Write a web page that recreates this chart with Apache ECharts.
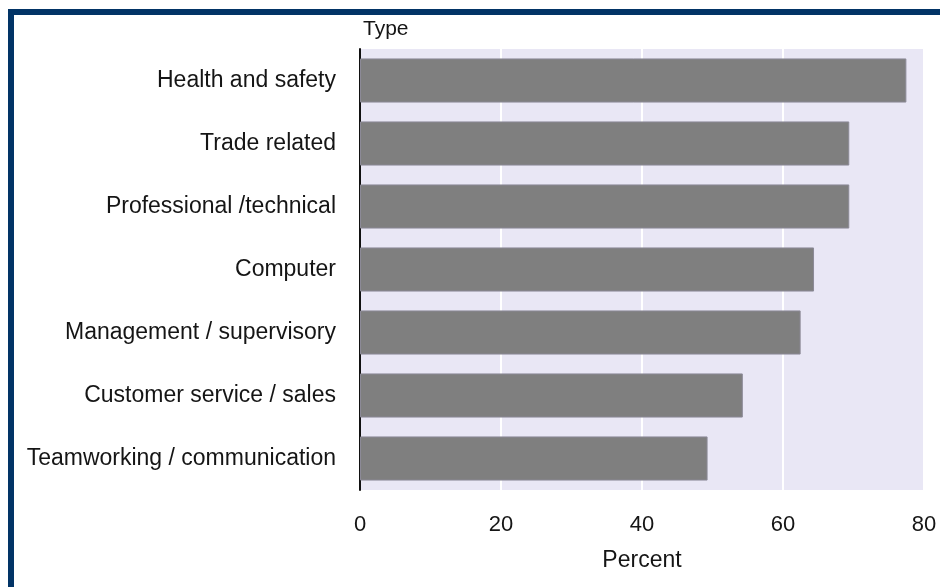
<!DOCTYPE html>
<html>
<head>
<meta charset="utf-8">
<style>
  html, body { margin: 0; padding: 0; background: #ffffff; }
  #chart { width: 940px; height: 587px; }
</style>
<script src="https://cdn.jsdelivr.net/npm/echarts@6/dist/echarts.min.js"></script>
</head>
<body>
<div id="chart"></div>
<script>
// Training types, top to bottom
const categories = [
  'Health and safety',
  'Trade related',
  'Professional /technical',
  'Computer',
  'Management / supervisory',
  'Customer service / sales',
  'Teamworking / communication'
];
// Share of respondents, percent
const percentValues = [77.5, 69.4, 69.4, 64.4, 62.5, 54.3, 49.3];
const percentTicks = [0, 20, 40, 60, 80];

const FONT = '"Liberation Sans", Arial, sans-serif';
const TEXT = '#151515';

const chart = echarts.init(document.getElementById('chart'), null, { renderer: 'canvas' });

chart.setOption({
  animation: false,
  backgroundColor: '#ffffff',
  title: {
    text: 'Type',
    left: 363,
    top: 19,
    padding: 0,
    textStyle: { fontFamily: FONT, fontSize: 21, fontWeight: 'normal', color: TEXT }
  },
  graphic: [
    // frame: navy rule along the top and left edges
    { type: 'rect', shape: { x: 8, y: 9, width: 932, height: 6 }, style: { fill: '#023466' }, z: 100 },
    { type: 'rect', shape: { x: 8, y: 9, width: 6, height: 578 }, style: { fill: '#023466' }, z: 100 }
  ],
  grid: {
    left: 360,
    right: 16,
    top: 49,
    bottom: 97,
    show: true,
    backgroundColor: '#e9e7f5',
    borderWidth: 0,
    containLabel: false
  },
  xAxis: {
    type: 'value',
    min: percentTicks[0],
    max: percentTicks[percentTicks.length - 1],
    interval: 20,
    name: 'Percent',
    nameLocation: 'middle',
    nameGap: 59,
    nameTextStyle: { fontFamily: FONT, fontSize: 23, color: TEXT },
    axisLine: { show: false },
    axisTick: { show: false },
    axisLabel: {
      margin: 24,
      fontFamily: FONT,
      fontSize: 22,
      color: TEXT,
      formatter: v => percentTicks.includes(v) ? String(v) : ''
    },
    splitLine: { show: true, lineStyle: { color: '#ffffff', width: 2 } }
  },
  yAxis: {
    type: 'category',
    data: categories,
    inverse: true,
    axisLine: { show: true, lineStyle: { color: '#111111', width: 2 } },
    axisTick: { show: false },
    axisLabel: {
      margin: 24,
      fontFamily: FONT,
      fontSize: 23,
      color: TEXT
    },
    splitLine: { show: false }
  },
  series: [{
    type: 'bar',
    data: percentValues,
    barCategoryGap: '30%',
    itemStyle: { color: '#7f7f7f', borderColor: '#8c8a97', borderWidth: 1 },
    z: 2
  }]
});
</script>
</body>
</html>
